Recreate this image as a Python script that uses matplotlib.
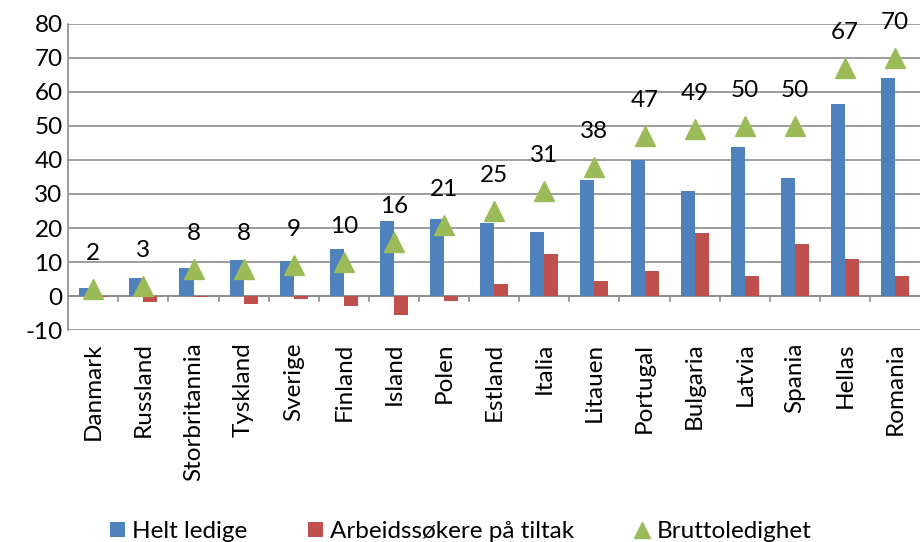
import matplotlib.pyplot as plt
import numpy as np

plt.rcParams['font.family'] = ['Lato', 'DejaVu Sans']
plt.rcParams['axes.unicode_minus'] = False

land = ["Danmark", "Russland", "Storbritannia", "Tyskland", "Sverige", "Finland",
        "Island", "Polen", "Estland", "Italia", "Litauen", "Portugal", "Bulgaria",
        "Latvia", "Spania", "Hellas", "Romania"]
helt_ledige = [2.3, 5.3, 8.3, 10.6, 10.3, 13.8, 22.0, 22.6, 21.5, 18.8, 34.2, 40.0,
               31.0, 43.8, 34.7, 56.5, 64.0]
tiltak = [-0.3, -1.8, -0.2, -2.2, -0.8, -3.0, -5.6, -1.5, 3.5, 12.3, 4.3, 7.3,
          18.5, 5.8, 15.3, 10.8, 5.8]
brutto = [2, 3, 8, 8, 9, 10, 16, 21, 25, 31, 38, 47, 49, 50, 50, 67, 70]

blue = "#4f81bd"
red = "#c0504d"
green = "#9bbb59"
fs = 17.5

fig = plt.figure(figsize=(9.22, 5.42), dpi=100)
ax = fig.add_axes([0.074, 0.391, 0.924, 0.565])

x = np.arange(len(land))
w = 0.28
b1 = ax.bar(x - w / 2, helt_ledige, width=w, color=blue, label="Helt ledige", zorder=3)
b2 = ax.bar(x + w / 2, tiltak, width=w, color=red, label="Arbeidssøkere på tiltak", zorder=3)
l1, = ax.plot(x, brutto, linestyle="none", marker="^", markersize=15, color=green,
              label="Bruttoledighet", zorder=4)

for xi, v in zip(x, brutto):
    ax.annotate(str(v), (xi, v), xytext=(0, 18), textcoords="offset points",
                ha="center", va="bottom", fontsize=fs, annotation_clip=False)

ax.set_xlim(-0.5, len(land) - 0.5)
ax.set_ylim(-10, 80)
ax.set_yticks(range(-10, 81, 10))
ax.yaxis.grid(True, color="#8c8c8c", linewidth=1.2, zorder=0)
ax.set_axisbelow(True)
ax.tick_params(axis="y", length=0, labelsize=fs, pad=4)

# nullinje med streker mellom kategoriene
ax.axhline(0, color="#8c8c8c", linewidth=1.2, zorder=2)
for b in np.arange(0.5, len(land) - 0.5, 1):
    ax.plot([b, b], [0, -1.5], color="#8c8c8c", linewidth=1.2, zorder=2)

for s in ["top", "right", "bottom"]:
    ax.spines[s].set_visible(False)
ax.spines["left"].set_color("#8c8c8c")
ax.spines["left"].set_linewidth(1.2)

ax.set_xticks(x)
ax.set_xticklabels(land, rotation=90, fontsize=fs)
ax.tick_params(axis="x", length=0, pad=9)

fig.legend([b1, b2, l1], ["Helt ledige", "Arbeidssøkere på tiltak", "Bruttoledighet"],
           loc="lower center", bbox_to_anchor=(0.5, -0.04), ncol=3,
           frameon=False, fontsize=fs, handlelength=0.6, handleheight=0.6,
           handletextpad=0.3, columnspacing=2.5, markerscale=0.75)

plt.savefig("out.png", dpi=100)
plt.close()
